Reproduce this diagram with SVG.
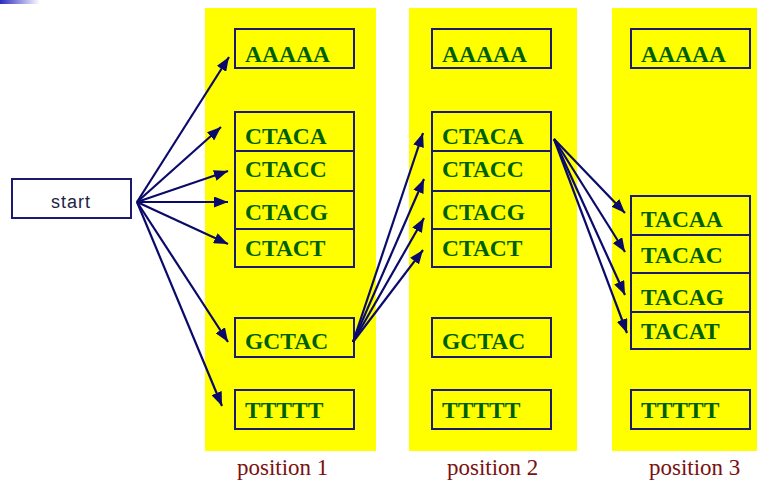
<svg xmlns="http://www.w3.org/2000/svg" width="764" height="482" viewBox="0 0 764 482">
<defs>
<linearGradient id="g" x1="0" x2="1" y1="0" y2="0"><stop offset="0" stop-color="#2b2bc0"/><stop offset="1" stop-color="#ffffff"/></linearGradient>
<marker id="ah" markerWidth="14" markerHeight="11" refX="14" refY="5.5" orient="auto" markerUnits="userSpaceOnUse"><path d="M0,0 L14,5.5 L0,11 Z" fill="#0a0a6a"/></marker>
<style>
.panel{fill:#ffff00}
.box{fill:#ffff00;stroke:#1a1a6e;stroke-width:2}
.seq{font-family:"Liberation Serif",serif;font-weight:bold;font-size:23.5px;fill:#006000}
.pos{font-family:"Liberation Serif",serif;font-size:23px;fill:#7a1010}
.conn line{stroke:#0a0a6a;stroke-width:2.2;marker-end:url(#ah)}
</style>
</defs>
<rect width="764" height="482" fill="#ffffff"/>
<rect x="0" y="0" width="40" height="4" fill="url(#g)"/>
<rect class="panel" x="205" y="8" width="171" height="443"/>
<rect class="panel" x="409" y="8" width="168" height="443"/>
<rect class="panel" x="612" y="8" width="145" height="443"/>
<text class="pos" x="237" y="475">position 1</text>
<text class="pos" x="447" y="475">position 2</text>
<text class="pos" x="649" y="475">position 3</text>
<g id="start"><rect x="12" y="179" width="119" height="39" fill="#ffffff" stroke="#1a1a6e" stroke-width="2"/><text x="71" y="208" text-anchor="middle" font-family="Liberation Sans, sans-serif" font-size="18" letter-spacing="1" fill="#222244">start</text></g>
<g id="p1-AAAAA"><rect class="box" x="235" y="29" width="119" height="39"/><text class="seq" x="245" y="62">AAAAA</text></g>
<g id="p1-CTACA"><rect class="box" x="235" y="112" width="119" height="39"/><text class="seq" x="245" y="144">CTACA</text></g>
<g id="p1-CTACC"><rect class="box" x="235" y="151" width="119" height="40"/><text class="seq" x="245" y="177">CTACC</text></g>
<g id="p1-CTACG"><rect class="box" x="235" y="191" width="119" height="38"/><text class="seq" x="245" y="220">CTACG</text></g>
<g id="p1-CTACT"><rect class="box" x="235" y="229" width="119" height="38"/><text class="seq" x="245" y="256">CTACT</text></g>
<g id="p1-GCTAC"><rect class="box" x="235" y="318" width="119" height="39"/><text class="seq" x="245" y="349">GCTAC</text></g>
<g id="p1-TTTTT"><rect class="box" x="235" y="390" width="119" height="39"/><text class="seq" x="245" y="418">TTTTT</text></g>
<g id="p2-AAAAA"><rect class="box" x="432" y="29" width="119" height="39"/><text class="seq" x="442" y="62">AAAAA</text></g>
<g id="p2-CTACA"><rect class="box" x="432" y="112" width="119" height="39"/><text class="seq" x="442" y="144">CTACA</text></g>
<g id="p2-CTACC"><rect class="box" x="432" y="151" width="119" height="40"/><text class="seq" x="442" y="177">CTACC</text></g>
<g id="p2-CTACG"><rect class="box" x="432" y="191" width="119" height="38"/><text class="seq" x="442" y="220">CTACG</text></g>
<g id="p2-CTACT"><rect class="box" x="432" y="229" width="119" height="38"/><text class="seq" x="442" y="256">CTACT</text></g>
<g id="p2-GCTAC"><rect class="box" x="432" y="318" width="119" height="39"/><text class="seq" x="442" y="349">GCTAC</text></g>
<g id="p2-TTTTT"><rect class="box" x="432" y="390" width="119" height="39"/><text class="seq" x="442" y="418">TTTTT</text></g>
<g id="p3-AAAAA"><rect class="box" x="631" y="29" width="119" height="39"/><text class="seq" x="641" y="62">AAAAA</text></g>
<g id="p3-TACAA"><rect class="box" x="631" y="196" width="119" height="39"/><text class="seq" x="641" y="227">TACAA</text></g>
<g id="p3-TACAC"><rect class="box" x="631" y="235" width="119" height="38"/><text class="seq" x="641" y="263">TACAC</text></g>
<g id="p3-TACAG"><rect class="box" x="631" y="273" width="119" height="39"/><text class="seq" x="641" y="305">TACAG</text></g>
<g id="p3-TACAT"><rect class="box" x="631" y="312" width="119" height="37"/><text class="seq" x="641" y="339">TACAT</text></g>
<g id="p3-TTTTT"><rect class="box" x="631" y="390" width="119" height="39"/><text class="seq" x="641" y="418">TTTTT</text></g>
<g class="conn" id="connectors">
<line x1="137" y1="202" x2="229" y2="57"/>
<line x1="137" y1="202" x2="221" y2="127"/>
<line x1="137" y1="202" x2="228" y2="171"/>
<line x1="137" y1="202" x2="228" y2="202"/>
<line x1="137" y1="202" x2="228" y2="244"/>
<line x1="137" y1="202" x2="228" y2="342"/>
<line x1="137" y1="202" x2="222" y2="406"/>
<line x1="353" y1="342" x2="423" y2="133"/>
<line x1="353" y1="342" x2="424" y2="179"/>
<line x1="353" y1="342" x2="424" y2="218"/>
<line x1="353" y1="342" x2="423" y2="250"/>
<line x1="554" y1="139" x2="625" y2="213"/>
<line x1="554" y1="139" x2="625" y2="252"/>
<line x1="554" y1="139" x2="625" y2="295"/>
<line x1="554" y1="139" x2="627" y2="333"/>
</g>
</svg>
